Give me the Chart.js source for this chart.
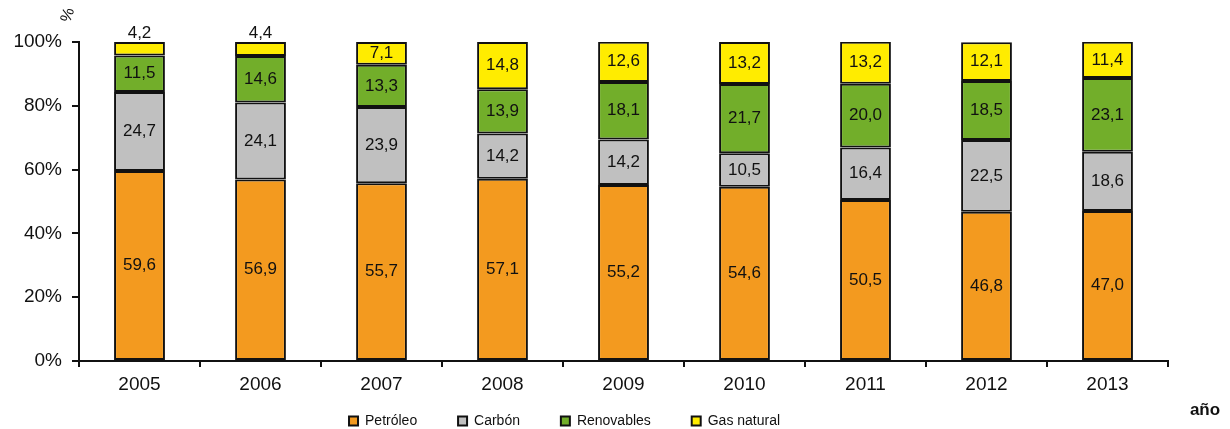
<!DOCTYPE html>
<html>
<head>
<meta charset="utf-8">
<script src="https://cdn.jsdelivr.net/npm/chart.js@4/dist/chart.umd.min.js"></script>
<style>
  html, body { margin: 0; padding: 0; background: #fff; }
  #wrap { width: 1230px; height: 429px; }
</style>
</head>
<body>
<div id="wrap"><canvas id="energyChart"></canvas></div>
<script>
// Data
const years = ["2005", "2006", "2007", "2008", "2009", "2010", "2011", "2012", "2013"];
const petroleo = [59.6, 56.9, 55.7, 57.1, 55.2, 54.6, 50.5, 46.8, 47.0];
const carbon = [24.7, 24.1, 23.9, 14.2, 14.2, 10.5, 16.4, 22.5, 18.6];
const renovables = [11.5, 14.6, 13.3, 13.9, 18.1, 21.7, 20.0, 18.5, 23.1];
const gasNatural = [4.2, 4.4, 7.1, 14.8, 12.6, 13.2, 13.2, 12.1, 11.4];
const yTicks = [0, 20, 40, 60, 80, 100];

const FONT = "'Liberation Sans', Arial, sans-serif";

// labels inside the segments, small ones on top of the bar
const segmentLabels = {
  id: "segmentLabels",
  afterDatasetsDraw(chart) {
    const ctx = chart.ctx;
    ctx.save();
    ctx.font = "17px " + FONT;
    ctx.fillStyle = "#111";
    ctx.textAlign = "center";
    ctx.textBaseline = "middle";
    chart.data.datasets.forEach((ds, i) => {
      const meta = chart.getDatasetMeta(i);
      meta.data.forEach((bar, j) => {
        const v = ds.data[j];
        const txt = v.toFixed(1).replace(".", ",");
        let y = (bar.y + bar.base) / 2;
        if (Math.abs(bar.base - bar.y) < 18) y = bar.y - 9;
        ctx.fillText(txt, bar.x, y);
      });
    });
    ctx.restore();
  },
};

// "%" and "año" axis captions
const axisCaptions = {
  id: "axisCaptions",
  afterDraw(chart) {
    const ctx = chart.ctx;
    ctx.save();
    ctx.fillStyle = "#111";
    ctx.font = "16px " + FONT;
    ctx.translate(68, 15);
    ctx.rotate(-Math.PI * 0.4);
    ctx.textAlign = "center";
    ctx.textBaseline = "middle";
    ctx.fillText("%", 0, 0);
    ctx.restore();
    ctx.save();
    ctx.fillStyle = "#111";
    ctx.font = "bold 17px " + FONT;
    ctx.textAlign = "center";
    ctx.textBaseline = "middle";
    ctx.fillText("año", 1205, 410);
    ctx.restore();
  },
};

const energyData = {
  labels: years,
  datasets: [
    { label: "Petróleo", data: petroleo, backgroundColor: "#F39A1F" },
    { label: "Carbón", data: carbon, backgroundColor: "#C0C0C0" },
    { label: "Renovables", data: renovables, backgroundColor: "#72AE2A" },
    { label: "Gas natural", data: gasNatural, backgroundColor: "#FFEC00" },
  ].map((d) => Object.assign(d, {
    borderColor: "#111",
    borderWidth: 2,
    borderSkipped: false,
    categoryPercentage: 1,
    barPercentage: 0.42,
  })),
};

const legendGap = "\u00a0".repeat(10);

const energyConfig = {
  type: "bar",
  data: energyData,
  plugins: [segmentLabels, axisCaptions],
  options: {
    responsive: false,
    animation: false,
    layout: { padding: { top: 42, right: 62, left: 0, bottom: -9 } },
    plugins: {
      tooltip: { enabled: false },
      legend: {
        position: "bottom",
        labels: {
          font: { family: FONT, size: 14 },
          color: "#111",
          boxWidth: 9,
          boxHeight: 9,
          padding: 2,
          generateLabels(chart) {
            const items = Chart.defaults.plugins.legend.labels.generateLabels(chart);
            items.forEach((it) => { it.text = it.text + legendGap; });
            return items;
          },
        },
      },
    },
    scales: {
      x: {
        stacked: true,
        grid: { display: true, drawOnChartArea: false, drawTicks: true, tickLength: 6, color: "#111", lineWidth: 2, offset: true },
        border: { color: "#111", width: 2 },
        ticks: { font: { family: FONT, size: 19 }, color: "#111", padding: 6 },
        afterFit(scale) { scale.height = 51; },
      },
      y: {
        stacked: true,
        min: 0,
        max: 100,
        afterBuildTicks(scale) { scale.ticks = yTicks.map((v) => ({ value: v })); },
        grid: { display: true, drawOnChartArea: false, drawTicks: true, tickLength: 7, color: "#111", lineWidth: 2 },
        border: { color: "#111", width: 2 },
        ticks: { font: { family: FONT, size: 19 }, color: "#111", padding: 10, callback: (v) => v + "%" },
        afterFit(scale) { scale.width = 79; },
      },
    },
  },
};

const canvas = document.getElementById("energyChart");
canvas.width = 1230;
canvas.height = 429;
const energyChart = new Chart(canvas, energyConfig);
</script>
</body>
</html>
